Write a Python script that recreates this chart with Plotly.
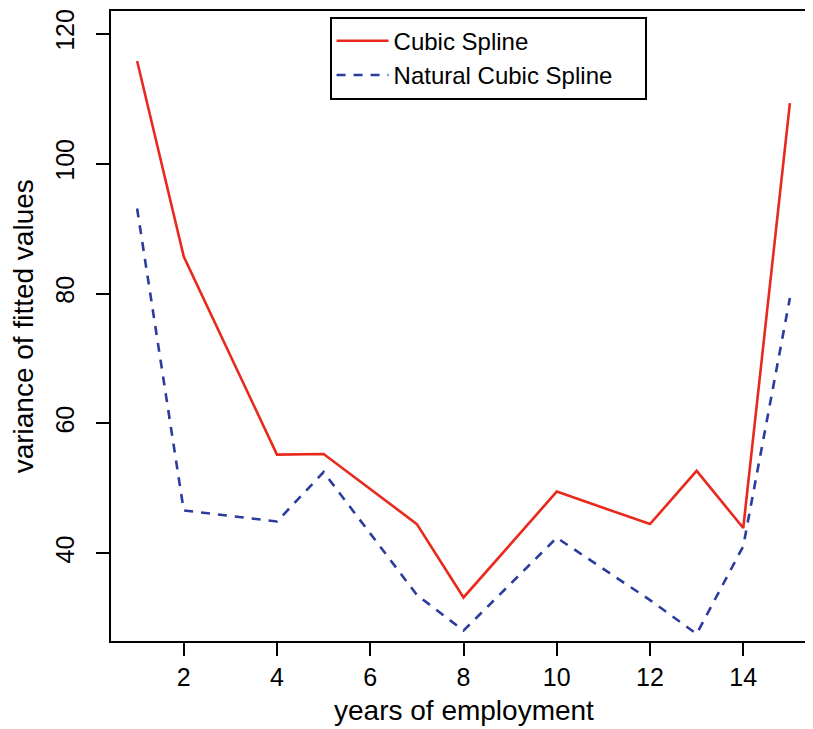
import plotly.graph_objects as go

# years of employment and variance of the fitted values
years = [1, 2, 4, 5, 7, 8, 10, 12, 13, 14, 15]
cubic = [115.8, 85.7, 55.2, 55.3, 44.5, 33.2, 49.5, 44.5, 52.7, 43.9, 109.3]
natural = [93.1, 46.6, 44.9, 52.5, 33.6, 28.1, 42.4, 32.8, 27.6, 41.1, 79.3]

x_ticks = [2, 4, 6, 8, 10, 12, 14]
y_ticks = [40, 60, 80, 100, 120]

font = "Liberation Sans, Arial, Helvetica, sans-serif"
pad = "\u00a0" * 4  # R legends leave some room after the text

fig = go.Figure()
fig.add_trace(go.Scatter(
    x=years, y=cubic, mode="lines", name="Cubic Spline",
    line=dict(color="#e8291c", width=2.6),
))
fig.add_trace(go.Scatter(
    x=years, y=natural, mode="lines", name="Natural Cubic Spline" + pad,
    line=dict(color="#2b3c9e", width=2.6, dash="9px,8px"),
))

axis_common = dict(
    showline=True, mirror=True, linecolor="black", linewidth=2,
    showgrid=False, zeroline=False, automargin=False,
    ticks="outside", ticklen=13, tickwidth=2, tickcolor="black",
    tickfont=dict(family=font, size=25, color="black"),
)

fig.update_layout(
    template="none",
    width=813, height=729,
    margin=dict(l=103, r=5, t=3, b=96),
    paper_bgcolor="white", plot_bgcolor="white",
    font=dict(family=font, color="black"),
    showlegend=True,
    xaxis=dict(range=[0.44, 15.56], tickvals=x_ticks, **axis_common),
    yaxis=dict(range=[26.5, 123.5], tickvals=y_ticks, tickangle=-90,
               ticklabelstandoff=12, **axis_common),
    legend=dict(
        x=0.31, y=0.991, xanchor="left", yanchor="top",
        bordercolor="black", borderwidth=2, bgcolor="white",
        font=dict(family=font, size=24, color="black"),
        itemwidth=52, tracegroupgap=0,
    ),
    annotations=[
        dict(text="years of employment", xref="paper", yref="paper",
             x=0.5, y=-0.111, xanchor="center", yanchor="middle",
             showarrow=False, font=dict(family=font, size=28)),
        dict(text="variance of fitted values", xref="paper", yref="paper",
             x=-0.1243, y=0.5, xanchor="center", yanchor="middle", textangle=-90,
             showarrow=False, font=dict(family=font, size=28)),
    ],
)

fig.write_html("out.html")
